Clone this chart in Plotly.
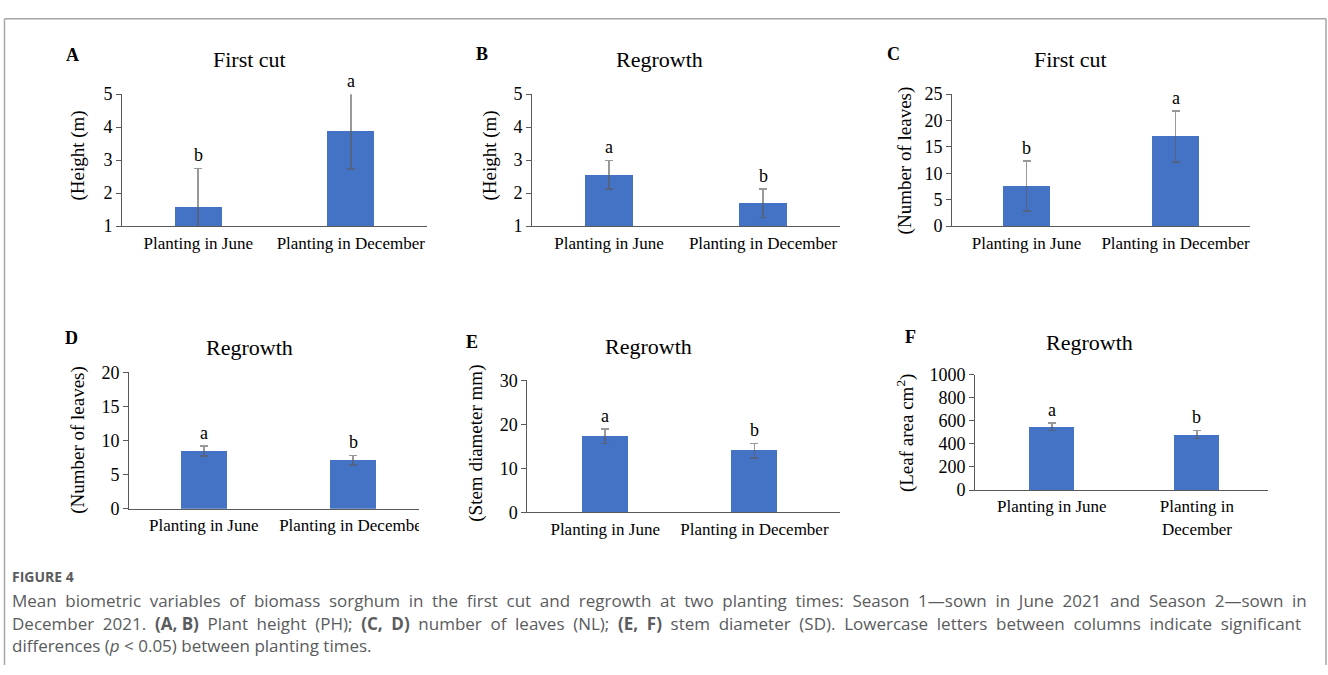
import plotly.graph_objects as go

W, H = 1328, 675

# ---------------- data ----------------
categories = ["Planting in June", "Planting in December"]
categories_F = ["Planting in June", "Planting in<br>December"]

height_first = [1.57, 3.88]
height_first_err = [1.18, 1.15]
height_regrowth = [2.56, 1.69]
height_regrowth_err = [0.43, 0.43]
leaves_first = [7.6, 17.0]
leaves_first_err = [4.7, 4.8]
leaves_regrowth = [8.5, 7.1]
leaves_regrowth_err = [0.73, 0.72]
stem_regrowth = [17.3, 14.0]
stem_regrowth_err = [1.65, 1.7]
leafarea_regrowth = [549, 482]
leafarea_regrowth_err = [34, 34]

letters_A = ["b", "a"]
letters_B = ["a", "b"]
letters_C = ["b", "a"]
letters_D = ["a", "b"]
letters_E = ["a", "b"]
letters_F = ["a", "b"]

caption_head = "FIGURE 4"
caption_lines = [
    "Mean biometric variables of biomass sorghum in the first cut and regrowth at two planting times: Season 1\u2014sown in June 2021 and Season 2\u2014sown in",
    "December 2021. <b>(A, B)</b> Plant height (PH); <b>(C, D)</b> number of leaves (NL); <b>(E, F)</b> stem diameter (SD). Lowercase letters between columns indicate significant",
    "differences (<i>p</i> &lt; 0.05) between planting times.",
]
caption_justified = [True, True, False]


def fx(p):
    return p / W


def fy(p):
    return 1 - p / H


# ---------------- panel layout (pixels) ----------------
panels = [
    dict(vals=height_first, err=height_first_err, letters=letters_A, cats=categories,
         title="First cut", tag="A", ytitle="(Height (m)", yr=[1, 5], dt=1,
         xd=(122, 427), yd=(86.7, 222.7), xr=[-0.5, 1.5],
         title_pos=(249, 51.5), tag_pos=(72, 46), ytitle_pos=(78, 150)),
    dict(vals=height_regrowth, err=height_regrowth_err, letters=letters_B, cats=categories,
         title="Regrowth", tag="B", ytitle="(Height (m)", yr=[1, 5], dt=1,
         xd=(532, 840), yd=(86.7, 222.7), xr=[-0.5, 1.5],
         title_pos=(659.5, 51), tag_pos=(482, 45), ytitle_pos=(490, 150)),
    dict(vals=leaves_first, err=leaves_first_err, letters=letters_C, cats=categories,
         title="First cut", tag="C", ytitle="(Number of leaves)", yr=[0, 25], dt=5,
         xd=(952, 1250), yd=(86.7, 222.7), xr=[-0.5, 1.5],
         title_pos=(1070, 51), tag_pos=(893, 45), ytitle_pos=(905, 155)),
    dict(vals=leaves_regrowth, err=leaves_regrowth_err, letters=letters_D, cats=categories,
         title="Regrowth", tag="D", ytitle="(Number of leaves)", yr=[0, 20], dt=5,
         xd=(129, 428), yd=(373.3, 514), xr=[-0.5, 1.5],
         title_pos=(249, 348), tag_pos=(71, 338), ytitle_pos=(78, 443)),
    dict(vals=stem_regrowth, err=stem_regrowth_err, letters=letters_E, cats=categories,
         title="Regrowth", tag="E", ytitle="(Stem diameter mm)", yr=[0, 30], dt=10,
         xd=(527.3, 840), yd=(381.7, 517.7), xr=[-0.522, 1.573],
         title_pos=(648, 347), tag_pos=(472, 342.5), ytitle_pos=(476, 447)),
    dict(vals=leafarea_regrowth, err=leafarea_regrowth_err, letters=letters_F, cats=categories_F,
         title="Regrowth", tag="F", ytitle="(Leaf area cm<sup>2</sup>)", yr=[0, 1000], dt=200,
         xd=(975, 1268), yd=(375.7, 494.7), xr=[-0.53, 1.49],
         title_pos=(1089, 343), tag_pos=(910, 337), ytitle_pos=(905, 436)),
]

SERIF = "Liberation Serif, Times New Roman, serif"
BAR_COLOR = "#4472C4"
AXIS_COLOR = "#595959"
ERR_COLOR = "rgba(90,90,90,0.62)"

fig = go.Figure()
annotations = []
layout_axes = {}

for i, p in enumerate(panels, start=1):
    xa = "x" if i == 1 else f"x{i}"
    ya = "y" if i == 1 else f"y{i}"
    fig.add_trace(go.Bar(
        x=[0, 1], y=p["vals"], width=0.31,
        marker=dict(color=BAR_COLOR, line=dict(width=0)),
        error_y=dict(type="data", array=p["err"], color=ERR_COLOR,
                     thickness=1.6, width=4),
        xaxis=xa, yaxis=ya, showlegend=False, hoverinfo="skip",
    ))
    layout_axes["xaxis" if i == 1 else f"xaxis{i}"] = dict(
        domain=[fx(p["xd"][0]), fx(p["xd"][1])], range=p["xr"],
        tickvals=[0, 1], ticktext=p["cats"], anchor=ya,
        showline=True, linecolor=AXIS_COLOR, linewidth=1, ticks="",
        showgrid=False, zeroline=False, ticklabelstandoff=1,
        tickfont=dict(family=SERIF, size=17, color="#000000"), fixedrange=True,
    )
    layout_axes["yaxis" if i == 1 else f"yaxis{i}"] = dict(
        domain=[fy(p["yd"][1]), fy(p["yd"][0])], range=p["yr"],
        dtick=p["dt"], tick0=p["yr"][0], anchor=xa,
        showline=True, linecolor=AXIS_COLOR, linewidth=1,
        ticks="outside", ticklen=5, tickcolor=AXIS_COLOR,
        showgrid=False, zeroline=False,
        tickfont=dict(family=SERIF, size=18, color="#000000"), fixedrange=True,
    )
    # significance letters (kept inside the axis range so they are drawn)
    for j in range(2):
        top = min(p["vals"][j] + p["err"][j], p["yr"][1])
        annotations.append(dict(
            x=j, y=top, xref=xa, yref=ya,
            text=p["letters"][j], showarrow=False, yanchor="bottom", yshift=1,
            font=dict(family=SERIF, size=18, color="#000000"),
        ))
    annotations.append(dict(
        x=fx(p["title_pos"][0]), y=fy(p["title_pos"][1]), xref="paper", yref="paper",
        text=p["title"], showarrow=False, xanchor="center", yanchor="middle",
        font=dict(family=SERIF, size=22, color="#000000"),
    ))
    annotations.append(dict(
        x=fx(p["tag_pos"][0]), y=fy(p["tag_pos"][1]), xref="paper", yref="paper",
        text=f"<b>{p['tag']}</b>", showarrow=False, xanchor="center", yanchor="middle",
        font=dict(family=SERIF, size=18, color="#000000"),
    ))
    annotations.append(dict(
        x=fx(p["ytitle_pos"][0]), y=fy(p["ytitle_pos"][1]), xref="paper", yref="paper",
        text=p["ytitle"], showarrow=False, xanchor="center", yanchor="middle",
        textangle=-90, font=dict(family=SERIF, size=19, color="#000000"),
    ))

# caption (first two lines are justified in the source, so widen their word gaps)
CAP_FONT = "Open Sans, Noto Sans, sans-serif"
CAP_COLOR = "#5a5b5d"
annotations.append(dict(
    x=fx(10), y=fy(584), xref="paper", yref="paper", text=f"<b>{caption_head}</b>",
    showarrow=False, xanchor="left", yanchor="middle",
    font=dict(family=CAP_FONT, size=14, color=CAP_COLOR),
))
for k, line in enumerate(caption_lines):
    txt = line.replace(" ", " \u2005") if caption_justified[k] else line
    txt = txt.replace("<b> \u2005", "<b> ").replace("(A, \u2005B)", "(A, B)")
    annotations.append(dict(
        x=fx(10), y=fy(609 + 23 * k), xref="paper", yref="paper", text=txt,
        showarrow=False, xanchor="left", yanchor="middle", align="left",
        font=dict(family=CAP_FONT, size=17, color=CAP_COLOR),
    ))

FRAME = "#a6a6a6"
shapes = [
    # cropped right edge of panel D (as in the source image)
    dict(type="rect", xref="paper", yref="paper", x0=fx(419), x1=fx(446),
         y0=fy(552), y1=fy(505), fillcolor="white", line=dict(width=0), layer="above"),
    # frame
    dict(type="line", xref="paper", yref="paper", x0=fx(4.5), x1=fx(1326),
         y0=fy(9), y1=fy(9), line=dict(color=FRAME, width=1.5), layer="above"),
    dict(type="line", xref="paper", yref="paper", x0=fx(4.5), x1=fx(4.5),
         y0=fy(9), y1=0, line=dict(color=FRAME, width=1.5), layer="above"),
    dict(type="line", xref="paper", yref="paper", x0=fx(1326), x1=fx(1326),
         y0=fy(9), y1=0, line=dict(color=FRAME, width=1.5), layer="above"),
]

fig.update_layout(
    width=W, height=H, margin=dict(l=0, r=0, t=0, b=0),
    paper_bgcolor="white", plot_bgcolor="white",
    annotations=annotations, shapes=shapes, bargap=0,
    **layout_axes,
)

fig.write_html(
    "out.html",
    config={"displayModeBar": False},
    post_script="document.body.style.margin='0px';document.body.style.overflow='hidden';",
)
